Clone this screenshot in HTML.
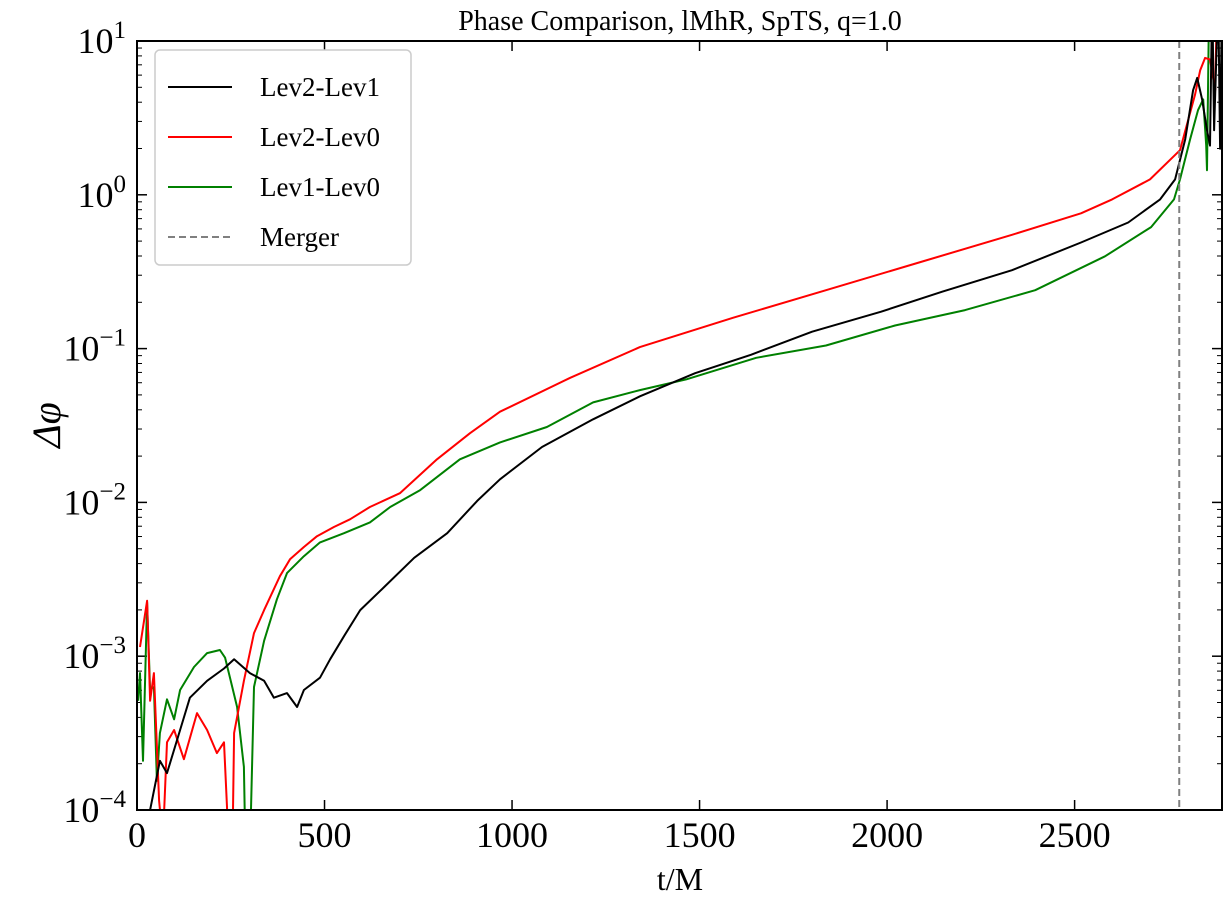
<!DOCTYPE html>
<html><head><meta charset="utf-8"><style>
body{margin:0;background:#fff}
svg text{font-family:"Liberation Serif",serif;fill:#000}
</style></head><body>
<svg id="c" width="1232" height="908" xmlns="http://www.w3.org/2000/svg">
<defs><clipPath id="pc"><rect x="137" y="41" width="1085" height="769"/></clipPath></defs>
<text x="680" y="30" font-size="28" text-anchor="middle">Phase Comparison, lMhR, SpTS, q=1.0</text>
<g id="ticks"></g>
<g id="series" clip-path="url(#pc)"></g>
<rect x="137" y="41" width="1085" height="769" fill="none" stroke="#000" stroke-width="2"/>
<text x="680" y="890" font-size="32" text-anchor="middle">t/M</text>
<text x="0" y="0" font-size="40" font-style="italic" text-anchor="middle" transform="translate(60,425) rotate(-90)">Δφ</text>
<g>
<rect x="155" y="50" width="256" height="215" rx="5" fill="#fff" stroke="#ccc" stroke-width="1.5"/>
<line x1="168" y1="87" x2="232" y2="87" stroke="#000" stroke-width="2"/>
<text x="260" y="96" font-size="27">Lev2-Lev1</text>
<line x1="168" y1="137" x2="232" y2="137" stroke="#f00" stroke-width="2"/>
<text x="260" y="146" font-size="27">Lev2-Lev0</text>
<line x1="168" y1="187" x2="232" y2="187" stroke="#008000" stroke-width="2"/>
<text x="260" y="196" font-size="27">Lev1-Lev0</text>
<line x1="168" y1="237" x2="232" y2="237" stroke="#808080" stroke-width="2" stroke-dasharray="7,4"/>
<text x="260" y="246" font-size="27">Merger</text>
</g>
</svg>
<script>
const xTicks=[0,500,1000,1500,2000,2500];
const yExps=[-4,-3,-2,-1,0,1];
const mergerT=2779;
const tBlack=[35,61,80,115,141,187,232,259,301,339,365,400,427,445,488,515,552,595,659,739,827,907,968,1080,1216,1341,1488,1637,1800,1984,2147,2333,2517,2643,2728,2768,2795,2816,2827,2840,2853,2861,2867,2872,2883,2888,2893];
const logBlack=[-4.0,-3.68,-3.76,-3.48,-3.27,-3.16,-3.08,-3.02,-3.11,-3.16,-3.27,-3.24,-3.33,-3.22,-3.14,-3.02,-2.87,-2.70,-2.55,-2.36,-2.20,-1.99,-1.85,-1.64,-1.46,-1.31,-1.16,-1.04,-0.89,-0.76,-0.63,-0.49,-0.31,-0.18,-0.03,0.10,0.36,0.68,0.76,0.62,0.42,0.32,1.3,0.42,1.3,0.30,1.3];
const tRed=[8,27,35,45,59,69,80,99,125,160,187,213,232,240,245,253,259,285,312,339,381,408,445,480,525,568,621,701,800,888,968,1155,1341,1589,1837,2085,2333,2517,2600,2701,2781,2821,2835,2848,2861,2875,2880];
const logRed=[-2.94,-2.64,-3.29,-3.11,-3.94,-4.2,-3.56,-3.48,-3.67,-3.37,-3.48,-3.63,-3.56,-3.98,-4.5,-4.5,-3.50,-3.16,-2.85,-2.70,-2.48,-2.37,-2.29,-2.22,-2.16,-2.11,-2.03,-1.94,-1.72,-1.55,-1.41,-1.19,-0.99,-0.80,-0.62,-0.44,-0.26,-0.12,-0.03,0.10,0.29,0.65,0.81,0.89,0.88,0.68,1.3];
const tGreen=[3,8,16,27,35,45,53,61,80,99,115,152,187,221,235,248,267,285,291,299,312,339,373,400,445,488,552,621,675,755,861,968,1093,1216,1341,1464,1651,1837,2021,2208,2395,2581,2704,2765,2781,2808,2829,2843,2851,2853,2859];
const logGreen=[-3.29,-3.11,-3.68,-2.65,-3.22,-3.20,-3.81,-3.50,-3.28,-3.41,-3.22,-3.07,-2.98,-2.96,-3.01,-3.14,-3.33,-3.72,-4.5,-4.5,-3.20,-2.90,-2.63,-2.46,-2.35,-2.26,-2.20,-2.13,-2.03,-1.92,-1.72,-1.61,-1.51,-1.35,-1.27,-1.20,-1.06,-0.98,-0.85,-0.75,-0.62,-0.40,-0.21,-0.03,0.10,0.36,0.55,0.62,0.32,0.16,1.3];

const NS="http://www.w3.org/2000/svg";
const X0=137,X1=1222,TMAX=2893,Y0=41,Y1=810;
function sx(t){return X0+(t/TMAX)*(X1-X0);}
function sy(l){return Y0+(1-l)/5*(Y1-Y0);}
const tk=document.getElementById('ticks');
const se=document.getElementById('series');
function ln(p,x1,y1,x2,y2,c,w){const e=document.createElementNS(NS,'line');e.setAttribute('x1',x1);e.setAttribute('y1',y1);e.setAttribute('x2',x2);e.setAttribute('y2',y2);e.setAttribute('stroke',c);e.setAttribute('stroke-width',w);p.appendChild(e);return e;}
xTicks.forEach(v=>{
  const x=sx(v);
  const a=ln(tk,x,Y1,x,Y1-10,'#000',1.5);
  
  
  ln(tk,x,Y0,x,Y0+10,'#000',1.5);
  const t=document.createElementNS(NS,'text');
  t.setAttribute('x',x);t.setAttribute('y',847);t.setAttribute('font-size','36');t.setAttribute('text-anchor','middle');
  t.textContent=v;
  
  
  tk.appendChild(t);
});
yExps.forEach(e=>{
  const y=sy(e);
  const a=ln(tk,X0,y,X0+10,y,'#000',1.5);
  
  
  ln(tk,X1,y,X1-10,y,'#000',1.5);
  if(e<1){for(let k=2;k<10;k++){const yy=sy(e+Math.log10(k));ln(tk,X0,yy,X0+5,yy,'#000',1);ln(tk,X1,yy,X1-5,yy,'#000',1);}}
  const t=document.createElementNS(NS,'text');
  t.setAttribute('x',126);t.setAttribute('y',y+12);t.setAttribute('font-size','36');t.setAttribute('text-anchor','end');
  t.innerHTML='10<tspan dy="-15" font-size="25">'+(e<0?'\u2212'+(-e):e)+'</tspan>';
  
  
  tk.appendChild(t);
});
function series(ts,ls,color,name){
  const p=document.createElementNS(NS,'polyline');
  p.setAttribute('points',ts.map((t,i)=>sx(t).toFixed(1)+','+sy(ls[i]).toFixed(1)).join(' '));
  p.setAttribute('fill','none');p.setAttribute('stroke',color);p.setAttribute('stroke-width','2');p.setAttribute('stroke-linejoin','round');
  
  
  se.appendChild(p);
}
series(tGreen,logGreen,'#008000','series-lev1-lev0');
series(tRed,logRed,'#ff0000','series-lev2-lev0');
series(tBlack,logBlack,'#000000','series-lev2-lev1');
const m=ln(se,sx(mergerT),Y0,sx(mergerT),Y1,'#808080',2);
m.setAttribute('stroke-dasharray','7,4');


</script>
</body></html>
